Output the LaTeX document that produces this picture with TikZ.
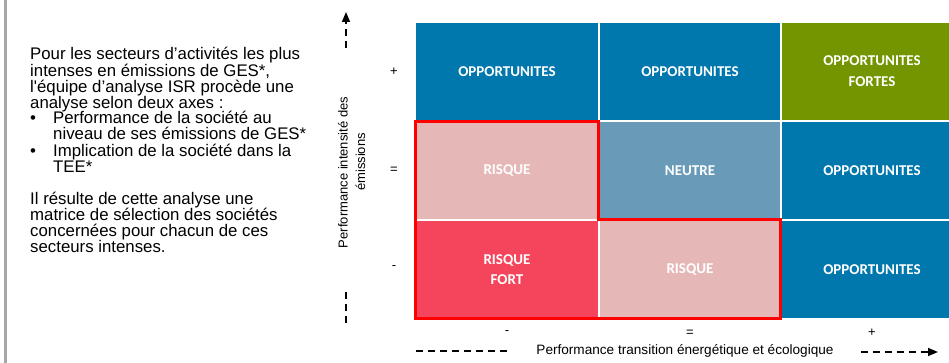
\documentclass[tikz,border=0pt]{standalone}
\usepackage{fontspec}
\setmainfont{Liberation Sans}[Ligatures=TeXOff]
\newfontfamily\cellfont{Carlito}
\usetikzlibrary{arrows.meta}

\definecolor{oppblue}{RGB}{0,119,173}
\definecolor{oppgreen}{RGB}{115,150,0}
\definecolor{riskpink}{RGB}{229,184,183}
\definecolor{neutralblue}{RGB}{105,155,185}
\definecolor{riskred}{RGB}{245,69,92}
\definecolor{framegrey}{RGB}{166,166,166}

\begin{document}
\begin{tikzpicture}[x=1pt,y=-1pt,
  cell/.style={minimum width=180pt, minimum height=97pt, inner sep=0pt,
    text=white, align=center,
    font=\cellfont\bfseries\fontsize{15}{20.5}\selectfont},
  widecell/.style={cell, minimum width=182pt},
  axislabel/.style={font=\fontsize{13}{16}\selectfont, inner sep=0pt},
  axisline/.style={line width=1.6pt, dash pattern=on 7pt off 5pt},
  tipped/.style={-{Triangle[length=10pt,width=8pt]}},
  zone/.style={draw=red, line width=3pt, line join=miter}]

% page frame
\fill[white] (0,0) rectangle (949,363);
\clip (0,0) rectangle (949,363);
\draw[framegrey, line width=3pt] (5.5,0) -- (5.5,363);

% explanatory text (base anchor sits on the last line)
\node[anchor=base west, inner sep=0pt, align=left,
  font=\fontsize{16.8}{16}\selectfont,
  execute at begin node={\lineskiplimit=-20pt\relax}] (intro) at (30,252)
  {Pour les secteurs d’activités les plus\\
   intenses en émissions de GES*,\\
   l'équipe d’analyse ISR procède une\\
   analyse selon deux axes :\\
   \makebox[23pt][l]{•}Performance de la société au\\
   \hspace*{23pt}niveau de ses émissions de GES*\\
   \makebox[23pt][l]{•}Implication de la société dans la\\
   \hspace*{23pt}TEE*\\[16pt]
   Il résulte de cette analyse une\\
   matrice de sélection des sociétés\\
   concernées pour chacun de ces\\
   secteurs intenses.};

% matrix cells
\node[widecell, fill=oppblue]     (c11) at (507,71.25) {OPPORTUNITES};
\node[cell,     fill=oppblue]     (c12) at (690,71.25) {OPPORTUNITES};
\node[cell,     fill=oppgreen]    (c13) at (872,71.25) {OPPORTUNITES\\FORTES};
\node[widecell, fill=riskpink]    (c21) at (507,170.5) {RISQUE};
\node[cell,     fill=neutralblue] (c22) at (690,170.5) {NEUTRE};
\node[cell,     fill=oppblue]     (c23) at (872,170.5) {OPPORTUNITES};
\node[widecell, fill=riskred]     (c31) at (507,269.5) {RISQUE\\FORT};
\node[cell,     fill=riskpink]    (c32) at (690,269.5) {RISQUE};
\node[cell,     fill=oppblue]     (c33) at (872,269.5) {OPPORTUNITES};

% risk zone outline
\draw[zone] (c21.north west) -- (c21.north east) -- (c21.south east)
  -| (c32.north east) -- (c32.south east) -- (c31.south west) -- cycle;

% row and column levels
\node[axislabel] (rowplus)  at (394,72)  {+};
\node[axislabel] (rowequal) at (394,170) {=};
\node[axislabel] (rowminus) at (394,268) {-};
\node[axislabel] (colminus) at (507,333) {-};
\node[axislabel] (colequal) at (690,333) {=};
\node[axislabel] (colplus)  at (872,333) {+};

% vertical axis
\coordinate (vstart) at (346,48);
\coordinate (vtip)   at (346,12);
\coordinate (vlowa)  at (346,292);
\coordinate (vlowb)  at (346,323);
\draw[axisline, tipped] (vstart) -- (vtip);
\draw[axisline] (vlowa) -- (vlowb);
\node[axislabel, rotate=90] (vlabel)  at (343,172.5) {Performance intensité des};
\node[axislabel, rotate=90] (vlabelb) at (360.5,162) {émissions};

% horizontal axis
\coordinate (hlefta)  at (416,351);
\coordinate (hleftb)  at (507,351);
\coordinate (hright)  at (861,352);
\coordinate (htip)    at (938,352);
\draw[axisline] (hlefta) -- (hleftb);
\draw[axisline, tipped] (hright) -- (htip);
\node[axislabel, font=\fontsize{13.6}{16}\selectfont] (hlabel) at (685,351)
  {Performance transition énergétique et écologique};
\end{tikzpicture}
\end{document}
